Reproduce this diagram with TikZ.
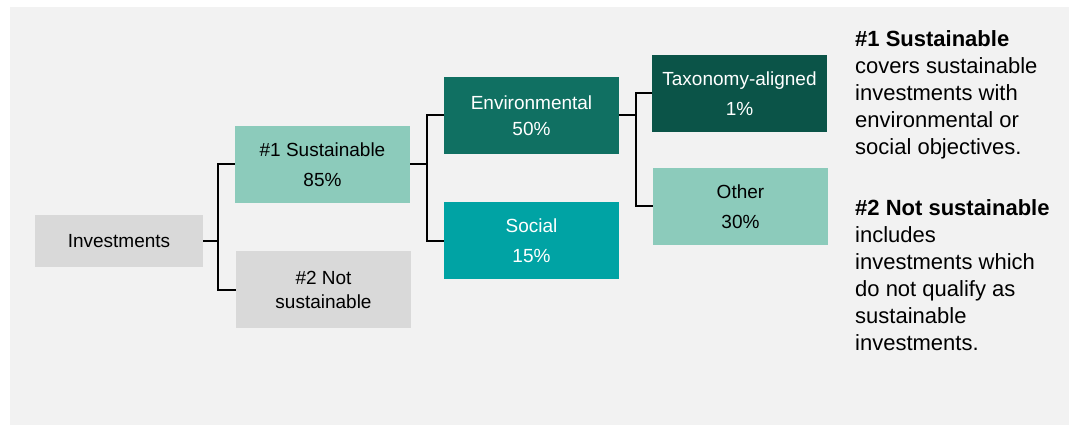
\documentclass[tikz,border=0pt]{standalone}
\usepackage{fontspec}
\setmainfont{Liberation Sans}
\usetikzlibrary{positioning, calc}
\definecolor{esgbg}{RGB}{242,242,242}
\definecolor{esggrey}{RGB}{217,217,217}
\definecolor{esglight}{RGB}{140,203,187}
\definecolor{esgmid}{RGB}{16,112,98}
\definecolor{esgdark}{RGB}{11,84,72}
\definecolor{esgteal}{RGB}{0,163,164}

\begin{document}
\begin{tikzpicture}[x=1pt,y=-1pt,
  box/.style={minimum width=175pt,minimum height=77pt,inner sep=0pt,align=center,font=\fontsize{19}{30}\selectfont},
  link/.style={draw=black,line width=2pt}]
\fill[white] (0,0) rectangle (1069,425);
\fill[esgbg] (10,7) rectangle (1069,425);
\useasboundingbox (0,0) rectangle (1069,425);

% Allocation tree
\node[box,fill=esggrey,minimum width=168pt,minimum height=52pt] (inv) at (119,241) {Investments};

\node[box,fill=esglight] (sus) at (322.5,164.5) {\#1 Sustainable\\85\%};
\node[box,fill=esggrey,font=\fontsize{19}{24}\selectfont] (nsus) at (323.5,289.5) {\#2 Not\\sustainable};

\node[box,fill=esgmid,text=white,font=\fontsize{19}{26}\selectfont] (env) at (531.5,115.5) {Environmental\\50\%};
\node[box,fill=esgteal,text=white] (soc) at (531.5,240.5) {Social\\15\%};

\node[box,fill=esgdark,text=white] (tax) at (739.5,93.5) {Taxonomy-aligned\\1\%};
\node[box,fill=esglight] (oth) at (740.5,206.5) {Other\\30\%};

% Branches
\draw[link] (inv.east) -- ++(15,0) coordinate (j1) |- (sus.west);
\draw[link] (j1) |- (nsus.west);
\draw[link] (sus.east) -- ++(17,0) coordinate (j2) |- (env.west);
\draw[link] (j2) |- (soc.west);
\draw[link] (env.east) -- ++(17,0) coordinate (j3) |- (tax.west);
\draw[link] (j3) |- (oth.west);

% Notes
\node[anchor=north west,inner sep=0pt,align=left,font=\fontsize{22}{27}\selectfont] (note1) at (855,30)
  {\textbf{\#1 Sustainable}\\covers sustainable\\investments with\\environmental or\\social objectives.};
\node[anchor=north west,inner sep=0pt,align=left,font=\fontsize{22}{27}\selectfont] (note2) at (855,199)
  {\textbf{\#2 Not sustainable}\\includes\\investments which\\do not qualify as\\sustainable\\investments.};
\end{tikzpicture}
\end{document}
